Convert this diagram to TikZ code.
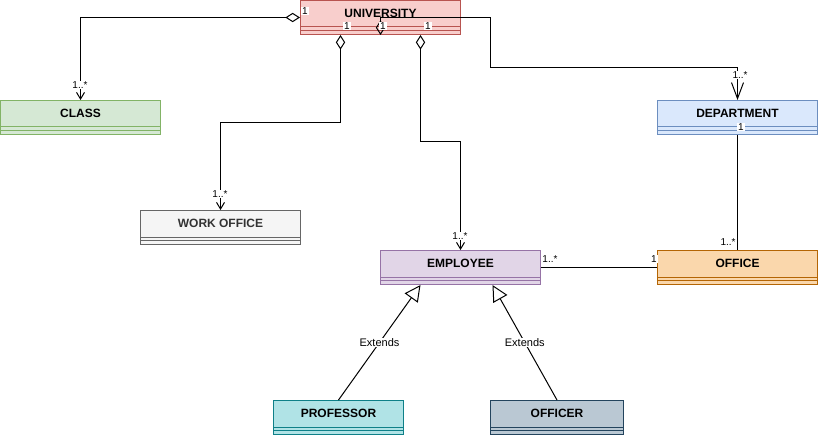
\documentclass[tikz,border=0pt]{standalone}
\usepackage{fontspec}
\setmainfont{Liberation Sans}
\usepackage{tikz}
\usetikzlibrary{arrows.meta,positioning,calc}

\definecolor{unifill}{HTML}{F8CECC}\definecolor{uniline}{HTML}{B85450}\colorlet{unitext}{black}
\definecolor{clsfill}{HTML}{D5E8D4}\definecolor{clsline}{HTML}{82B366}\colorlet{clstext}{black}
\definecolor{wofill}{HTML}{F5F5F5}\definecolor{woline}{HTML}{666666}\definecolor{wotext}{HTML}{333333}
\definecolor{depfill}{HTML}{DAE8FC}\definecolor{depline}{HTML}{6C8EBF}\colorlet{deptext}{black}
\definecolor{empfill}{HTML}{E1D5E7}\definecolor{empline}{HTML}{9673A6}\colorlet{emptext}{black}
\definecolor{ofcfill}{HTML}{FAD7AC}\definecolor{ofcline}{HTML}{B46504}\colorlet{ofctext}{black}
\definecolor{proffill}{HTML}{B0E3E6}\definecolor{profline}{HTML}{0E8088}\colorlet{proftext}{black}
\definecolor{offfill}{HTML}{BAC8D3}\definecolor{offline}{HTML}{23445D}\colorlet{offtext}{black}

\tikzset{
  classbox/.style={draw, rectangle, anchor=north west, minimum height=25.5pt, inner sep=0pt},
  classname/.style={font=\fontsize{9}{10}\selectfont\bfseries, inner sep=0pt},
  mult/.style={font=\fontsize{7.5}{8}\selectfont, fill=white, inner sep=0.6pt},
  aggr/.style={{Diamond[open,length=11pt,width=7pt]}-{Straight Barb[length=5pt,width=6pt]}},
  gen/.style={-{Triangle[open,length=12pt,width=12pt]}},
}

\begin{document}
\begin{tikzpicture}[x=0.75pt, y=-0.75pt, line width=0.75pt]
\useasboundingbox (0,0) rectangle (818,435);

% Classes
\foreach \n/\x/\y/\w/\t in {uni/300/0/160/UNIVERSITY, cls/0/100/160/CLASS,
    wo/140/210/160/WORK OFFICE, dep/657/100/160/DEPARTMENT,
    emp/380/250/160/EMPLOYEE, ofc/657/250/160/OFFICE,
    prof/273/400/130/PROFESSOR, off/490/400/133/OFFICER} {
    \node[classbox, minimum width=\w*0.75pt, fill=\n fill, draw=\n line] (\n) at (\x, \y) {};
    \node[classname, text=\n text] (\n-t) at ($(\n.north)+(0,13)$) {\t};
    \draw[\n line] ($(\n.south west)+(0,-8)$) -- ($(\n.south east)+(0,-8)$);
    \draw[\n line] ($(\n.south west)+(0,-4.5)$) -- ($(\n.south east)+(0,-4.5)$);
}

% Aggregations from the university
\draw[aggr] (uni.west) -| (cls.north);
\draw[aggr] ([xshift=-30pt]uni.south) -- ++(0,88) -| (wo.north);
\draw[aggr] ([xshift=30pt]uni.south) -- ++(0,106) -| (emp.north);
\draw[{Diamond[open,length=11pt,width=7pt]}-{Straight Barb[length=12pt,width=9pt]}]
    (uni.south) -- ++(0,-17) -| ++(110,50) -| (dep.north);

% Other associations
\draw (dep.south) -- (ofc.north);
\draw (emp.east) -- (ofc.west);

% Generalizations
\draw[gen] (prof.north) -- node[mult, font=\fontsize{8.25}{9}\selectfont] (ext1) {Extends} ([xshift=-30pt]emp.south);
\draw[gen] (off.north) -- node[mult, font=\fontsize{8.25}{9}\selectfont] (ext2) {Extends} ([xshift=24pt]emp.south);

% Multiplicities
\node[mult] (m1) at (305, 11) {1};
\node[mult] (m2) at (347, 26) {1};
\node[mult] (m3) at (383, 26) {1};
\node[mult] (m4) at (428, 26) {1};
\node[mult] (m5) at (80, 85) {1..*};
\node[mult] (m6) at (220, 194) {1..*};
\node[mult] (m7) at (460, 236) {1..*};
\node[mult] (m8) at (740, 75) {1..*};
\node[mult] (m9) at (741, 127) {1};
\node[mult] (m10) at (728, 242) {1..*};
\node[mult] (m11) at (550, 259) {1..*};
\node[mult] (m12) at (654, 259) {1};
\end{tikzpicture}
\end{document}
